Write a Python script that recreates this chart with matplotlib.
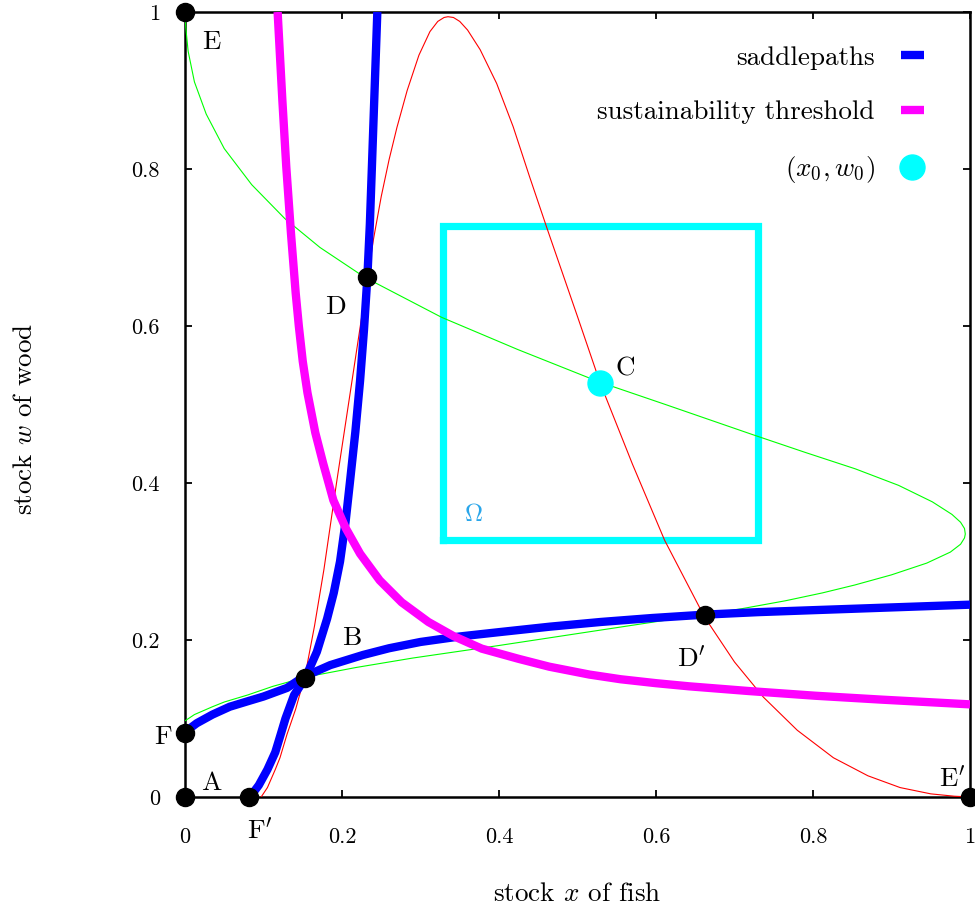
import matplotlib
matplotlib.use("Agg")
import matplotlib.pyplot as plt
from matplotlib.lines import Line2D

plt.rcParams['font.family'] = ['cmr10', 'DejaVu Serif']
plt.rcParams['mathtext.fontset'] = 'cm'
plt.rcParams['axes.formatter.use_mathtext'] = True

# ---- data ----
# red curve (w as function of x); the green curve is its mirror image (x as function of w)
red_x = [0.097, 0.105, 0.115, 0.121, 0.130, 0.141, 0.153, 0.165, 0.177, 0.193, 0.210, 0.225, 0.240,
         0.250, 0.260, 0.270, 0.283, 0.298, 0.312, 0.322, 0.330, 0.335, 0.342, 0.350, 0.360, 0.376,
         0.397, 0.418, 0.439, 0.462, 0.500, 0.529, 0.570, 0.611, 0.662, 0.700, 0.737, 0.780, 0.826,
         0.870, 0.911, 0.950, 0.980, 1.000]
red_w = [0.000, 0.012, 0.035, 0.050, 0.080, 0.112, 0.155, 0.218, 0.290, 0.400, 0.512, 0.611, 0.710,
         0.765, 0.812, 0.853, 0.900, 0.945, 0.975, 0.988, 0.993, 0.994, 0.993, 0.988, 0.977, 0.952,
         0.909, 0.854, 0.790, 0.722, 0.612, 0.527, 0.424, 0.327, 0.229, 0.172, 0.127, 0.085, 0.050,
         0.027, 0.012, 0.004, 0.001, 0.000]
green_x = red_w
green_w = red_x

# saddlepaths (the second is the mirror image of the first)
sp1_x = [0.082, 0.088, 0.094, 0.105, 0.115, 0.122, 0.128, 0.139, 0.153, 0.168, 0.181, 0.1895, 0.1975,
         0.2045, 0.210, 0.217, 0.223, 0.228, 0.2323, 0.2355, 0.238, 0.2415, 0.245]
sp1_w = [0.000, 0.007, 0.015, 0.035, 0.057, 0.080, 0.100, 0.130, 0.151, 0.185, 0.227, 0.260, 0.300,
         0.350, 0.400, 0.465, 0.530, 0.595, 0.662, 0.730, 0.800, 0.900, 1.000]
sp2_x = sp1_w
sp2_w = sp1_x

# sustainability threshold
thr_x = [0.118, 0.121, 0.124, 0.129, 0.135, 0.141, 0.145, 0.150, 0.156, 0.166, 0.176, 0.189, 0.205,
         0.223, 0.248, 0.276, 0.310, 0.342, 0.378, 0.425, 0.464, 0.515, 0.555, 0.600, 0.642, 0.718,
         0.803, 0.888, 1.000]
thr_w = [1.000, 0.944, 0.888, 0.803, 0.718, 0.642, 0.600, 0.555, 0.515, 0.464, 0.425, 0.378, 0.342,
         0.310, 0.276, 0.248, 0.223, 0.205, 0.189, 0.176, 0.166, 0.156, 0.150, 0.145, 0.141, 0.135,
         0.129, 0.124, 0.118]

# region Omega
omega_x = [0.329, 0.730, 0.730, 0.329, 0.329]
omega_w = [0.327, 0.327, 0.727, 0.727, 0.327]

# equilibria
pt_names = ['A', 'E', "E'", 'F', "F'", 'B', 'D', "D'"]
pt_x = [0.0, 0.0, 1.0, 0.0, 0.082, 0.153, 0.2323, 0.662]
pt_w = [0.0, 1.0, 0.0, 0.082, 0.0, 0.151, 0.662, 0.2323]
c_x, c_w = 0.529, 0.527

lab_names = ['E', 'D', 'C', 'B', r"D$'$", 'F', 'A', r"F$'$", r"E$'$"]
lab_x = [0.033, 0.191, 0.561, 0.212, 0.645, -0.028, 0.034, 0.095, 0.978]
lab_w = [0.962, 0.624, 0.546, 0.202, 0.176, 0.076, 0.018, -0.043, 0.024]

ticks = [0, 0.2, 0.4, 0.6, 0.8, 1]
tick_labels = ['0', '0.2', '0.4', '0.6', '0.8', '1']

# ---- figure ----
fig = plt.figure(figsize=(9.75, 9.10), dpi=100)
ax = fig.add_axes([185/975, 1-797/910, 785/975, 785/910])
ax.set_xlim(0, 1)
ax.set_ylim(0, 1)

ax.plot(omega_x, omega_w, color='#00FFFF', lw=5.2, solid_joinstyle='miter', zorder=2)
ax.plot(red_x, red_w, color='#FF0000', lw=0.8, zorder=3)
ax.plot(green_x, green_w, color='#00FF00', lw=0.8, zorder=3)
ax.plot(sp1_x, sp1_w, color='#0000FF', lw=6, solid_capstyle='butt', zorder=4)
ax.plot(sp2_x, sp2_w, color='#0000FF', lw=6, solid_capstyle='butt', zorder=4)
ax.plot(thr_x, thr_w, color='#FF00FF', lw=6, solid_capstyle='butt', zorder=5)
ax.plot(pt_x, pt_w, 'o', color='black', ms=13, clip_on=False, zorder=6)
ax.plot([c_x], [c_w], 'o', color='#00FFFF', ms=18, zorder=6)

for n, x, w in zip(lab_names, lab_x, lab_w):
    ax.text(x, w, n, fontsize=19.5, ha='center', va='center', zorder=7, clip_on=False)
ax.text(0.367, 0.359, r'$\Omega$', fontsize=18, color='#2AA6EA', ha='center', va='center', zorder=7)

ax.set_xticks(ticks)
ax.set_xticklabels(tick_labels)
ax.set_yticks(ticks)
ax.set_yticklabels(tick_labels)
ax.tick_params(direction='in', length=5, width=1.3, top=True, right=True, labelsize=16)
ax.tick_params(axis='x', pad=22)
ax.tick_params(axis='y', pad=18)
for s in ax.spines.values():
    s.set_linewidth(1.8)

fig.text(577/975, 1-894/910, r'stock $x$ of fish', fontsize=19.5, ha='center', va='center')
fig.text(25/975, 1-419/910, r'stock $w$ of wood', fontsize=19.5, ha='center', va='center', rotation=90)

handles = [Line2D([], [], color='#0000FF', lw=6, solid_capstyle='butt'),
           Line2D([], [], color='#FF00FF', lw=6, solid_capstyle='butt'),
           Line2D([], [], color='#00FFFF', marker='o', ms=18, ls='none')]
labels = ['saddlepaths', 'sustainability threshold', r'$(x_0,w_0)$']
ax.legend(handles, labels, loc='upper right', bbox_to_anchor=(0.941, 0.957), frameon=False,
          markerfirst=False, fontsize=19.5, handlelength=0.85, handletextpad=0.95,
          labelspacing=1.12, borderpad=0, borderaxespad=0)

fig.savefig('out.png', dpi=100)
